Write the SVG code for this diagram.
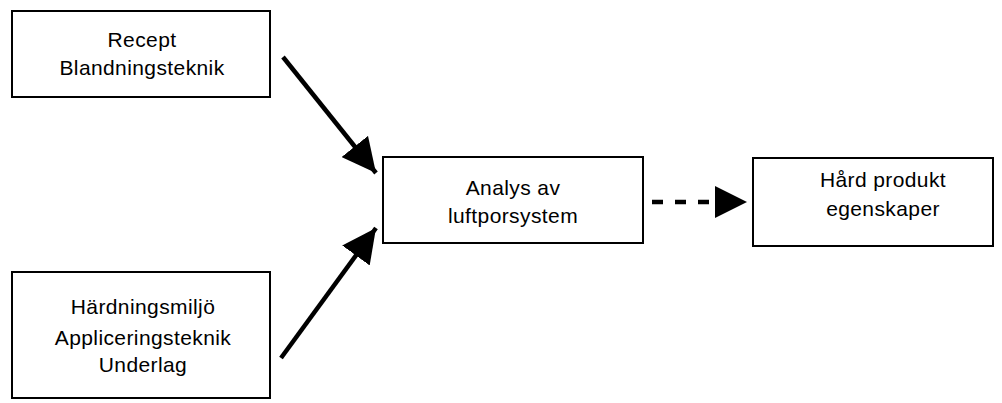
<svg xmlns="http://www.w3.org/2000/svg" width="1002" height="403" viewBox="0 0 1002 403">
<style>
.box{fill:#fff;stroke:#000;stroke-width:2}
.t{font-family:"Liberation Sans",Arial,sans-serif;font-size:21px;letter-spacing:0.4px;fill:#000;text-anchor:middle}
.c{stroke:#000;stroke-width:4.5;fill:none}
.d{stroke:#000;stroke-width:4.5;fill:none;stroke-dasharray:11 12}
</style>
<defs>
<marker id="ah" viewBox="0 0 34 34" refX="34" refY="17" markerWidth="34" markerHeight="34" markerUnits="userSpaceOnUse" orient="auto">
<path d="M0,0 L34,17 L0,34 Z" fill="#000"/>
</marker>
</defs>
<rect width="1002" height="403" fill="#fff"/>
<g id="recept">
<rect class="box" x="12" y="11" width="258" height="86"/>
<text class="t" x="142" y="47">Recept</text>
<text class="t" x="142" y="75">Blandningsteknik</text>
</g>
<g id="hardning">
<rect class="box" x="12" y="272" width="258" height="126"/>
<text class="t" x="143" y="314">Härdningsmiljö</text>
<text class="t" x="143" y="345">Appliceringsteknik</text>
<text class="t" x="143" y="372">Underlag</text>
</g>
<g id="analys">
<rect class="box" x="383" y="157" width="260" height="86"/>
<text class="t" x="513" y="195">Analys av</text>
<text class="t" x="513" y="223">luftporsystem</text>
</g>
<g id="hard">
<rect class="box" x="753" y="158" width="240" height="88"/>
<text class="t" x="883" y="187">Hård produkt</text>
<text class="t" x="883" y="216">egenskaper</text>
</g>
<g id="connectors">
<line class="c" x1="283" y1="57" x2="376" y2="173" marker-end="url(#ah)"/>
<line class="c" x1="281" y1="358" x2="376" y2="228" marker-end="url(#ah)"/>
<line class="d" x1="652" y1="202" x2="716" y2="202"/>
<path d="M715,186 L747,202 L715,218 Z" fill="#000"/>
</g>
</svg>
